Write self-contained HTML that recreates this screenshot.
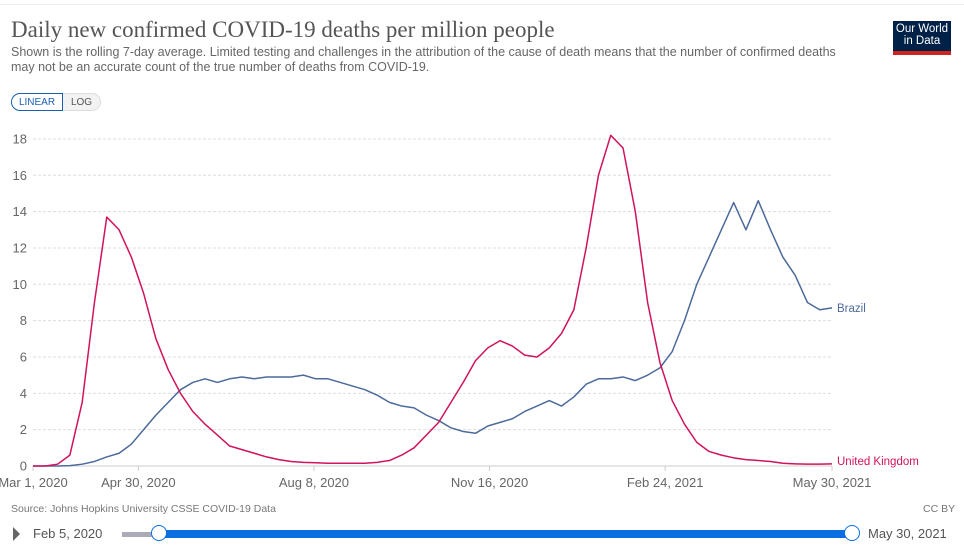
<!DOCTYPE html>
<html><head><meta charset="utf-8"><style>
body{margin:0;width:964px;height:555px;background:#fff;font-family:"Liberation Sans",sans-serif;overflow:hidden;position:relative}
.t{position:absolute;white-space:nowrap}
</style></head><body>
<div style="position:absolute;left:0;top:0;width:964px;height:4px;border-bottom:1px solid #eee"></div>
<div class="t" style="left:11px;top:17px;font-family:'Liberation Serif',serif;font-size:23px;color:#555">Daily new confirmed COVID-19 deaths per million people</div>
<div class="t" style="left:11px;top:45px;font-size:12.5px;color:#666;line-height:15px">Shown is the rolling 7-day average. Limited testing and challenges in the attribution of the cause of death means that the number of confirmed deaths<br>may not be an accurate count of the true number of deaths from COVID-19.</div>
<div style="position:absolute;left:893px;top:21px;width:58px;height:34px;background:#002147;color:#fff;font-size:11.5px;line-height:12px;text-align:center;padding-top:2px;box-sizing:border-box;border-bottom:4px solid #ce261e">Our World<br>in Data</div>
<div style="position:absolute;left:11px;top:93px;width:52px;height:18px;border:1px solid #1a5fb4;border-radius:9px 0 0 9px;font-size:10px;color:#1a5fb4;text-align:center;line-height:18px;box-sizing:border-box">LINEAR</div>
<div style="position:absolute;left:63px;top:93px;width:38px;height:18px;border:1px solid #ddd;border-left:none;background:#f2f2f2;border-radius:0 9px 9px 0;font-size:10px;color:#555;text-align:center;line-height:18px;box-sizing:border-box">LOG</div>
<svg id="chart" width="964" height="555" style="position:absolute;left:0;top:0"></svg>
<div class="t" style="left:11px;top:503px;font-size:10.5px;color:#777">Source: Johns Hopkins University CSSE COVID-19 Data</div>
<div class="t" style="left:923px;top:503px;font-size:10.5px;color:#777">CC BY</div>
<div style="position:absolute;left:13px;top:527px;width:0;height:0;border-left:7px solid #666;border-top:7px solid transparent;border-bottom:7px solid transparent"></div>
<div class="t" style="left:33px;top:526px;font-size:13px;color:#555">Feb 5, 2020</div>
<div style="position:absolute;left:122px;top:532px;width:40px;height:5px;background:#aab"></div>
<div style="position:absolute;left:160px;top:530px;width:692px;height:8px;background:#0b6ee0"></div>
<div style="position:absolute;left:151px;top:525px;width:16px;height:16px;border:1.5px solid #0b6ee0;border-radius:50%;background:#fff;box-sizing:border-box"></div>
<div style="position:absolute;left:844px;top:525px;width:16px;height:16px;border:1.5px solid #0b6ee0;border-radius:50%;background:#fff;box-sizing:border-box"></div>
<div class="t" style="left:868px;top:526px;font-size:13px;color:#555">May 30, 2021</div>
<script>
const days=[0,7,14,21,28,35,42,49,56,63,70,77,84,91,98,105,112,119,126,133,140,147,154,161,168,175,182,189,196,203,210,217,224,231,238,245,252,259,266,273,280,287,294,301,308,315,322,329,336,343,350,357,364,371,378,385,392,399,406,413,420,427,434,441,448,455];
const ukValues=[0,0,0.1,0.6,3.5,9,13.7,13,11.5,9.5,7,5.3,4,3,2.3,1.7,1.1,0.9,0.7,0.5,0.35,0.25,0.2,0.18,0.15,0.15,0.15,0.15,0.2,0.3,0.6,1.0,1.7,2.4,3.5,4.6,5.8,6.5,6.9,6.6,6.1,6.0,6.5,7.3,8.6,12,16,18.2,17.5,14,9,5.7,3.6,2.3,1.3,0.8,0.6,0.45,0.35,0.3,0.25,0.15,0.12,0.1,0.1,0.12];
const brazilValues=[0,0,0,0.02,0.1,0.25,0.5,0.7,1.2,2,2.8,3.5,4.2,4.6,4.8,4.6,4.8,4.9,4.8,4.9,4.9,4.9,5.0,4.8,4.8,4.6,4.4,4.2,3.9,3.5,3.3,3.2,2.8,2.5,2.1,1.9,1.8,2.2,2.4,2.6,3.0,3.3,3.6,3.3,3.8,4.5,4.8,4.8,4.9,4.7,5.0,5.4,6.3,8.0,10,11.5,13.0,14.5,13.0,14.6,13.0,11.5,10.5,9.0,8.6,8.7];
const yTicks=[0,2,4,6,8,10,12,14,16,18];
const xTickDays=[0,60,160,260,360,455];
const xTickLabels=["Mar 1, 2020","Apr 30, 2020","Aug 8, 2020","Nov 16, 2020","Feb 24, 2021","May 30, 2021"];
const X0=33,X1=832,Y0=466,PXU=18.17;
const xs=d=>X0+(X1-X0)*d/455;
const ys=v=>Y0-v*PXU;
const svg=document.getElementById('chart');
const NS='http://www.w3.org/2000/svg';
function mk(tag,attrs){const e=document.createElementNS(NS,tag);for(const k in attrs)e.setAttribute(k,attrs[k]);svg.appendChild(e);return e;}
yTicks.forEach(v=>{
  const l=mk('line',{x1:X0,x2:X1,y1:ys(v),y2:ys(v),stroke:v===0?'#ccc':'#ddd','stroke-dasharray':v===0?'':'3,2'});
  
  
  const t=mk('text',{x:27,y:ys(v)+4.5,'text-anchor':'end','font-size':13,fill:'#666','font-family':'Liberation Sans,sans-serif'});
  t.textContent=v;
  
  
});
xTickDays.forEach((d,i)=>{
  const l=mk('line',{x1:xs(d),x2:xs(d),y1:Y0,y2:Y0+5,stroke:'#ccc'});
  
  
  const t=mk('text',{x:xs(d),y:487,'text-anchor':'middle','font-size':13,fill:'#666','font-family':'Liberation Sans,sans-serif'});
  t.textContent=xTickLabels[i];
  
  
});
function line(vals,color,name){
  const p=mk('polyline',{points:vals.map((v,i)=>xs(days[i])+','+ys(v)).join(' '),fill:'none',stroke:color,'stroke-width':1.5,'stroke-linejoin':'round'});
  
  
}
line(brazilValues,'#4c6a9c','brazil-line');
line(ukValues,'#d0135b','uk-line');
const lb=mk('text',{x:837,y:ys(brazilValues[brazilValues.length-1])+4,'font-size':11.5,fill:'#4c6a9c','font-family':'Liberation Sans,sans-serif'});
lb.textContent='Brazil';


const lu=mk('text',{x:837,y:465,'font-size':11.5,fill:'#d0135b','font-family':'Liberation Sans,sans-serif'});
lu.textContent='United Kingdom';


</script>
</body></html>
